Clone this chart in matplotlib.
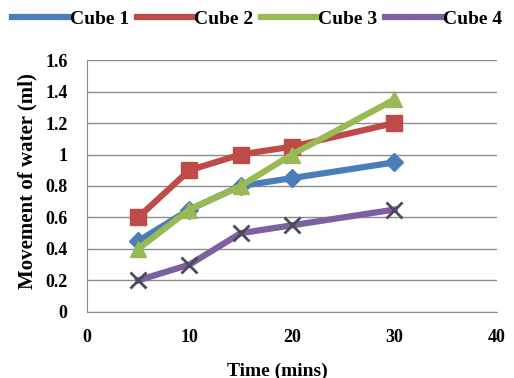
import matplotlib.pyplot as plt

# data
time = [5, 10, 15, 20, 30]
cube1 = [0.45, 0.65, 0.8, 0.85, 0.95]
cube2 = [0.6, 0.9, 1.0, 1.05, 1.2]
cube3 = [0.4, 0.65, 0.8, 1.0, 1.35]
cube4 = [0.2, 0.3, 0.5, 0.55, 0.65]

plt.rcParams['font.family'] = 'Liberation Serif'
plt.rcParams['font.weight'] = 'bold'

fig = plt.figure(figsize=(5.14, 3.78), dpi=100)
ax = fig.add_axes([0.169, 0.175, 0.798, 0.666])

ax.plot(time, cube1, color='#4A7EBB', lw=4.5, marker='D', ms=9, label='Cube 1')
ax.plot(time, cube2, color='#BE4B48', lw=4.5, marker='s', ms=11, label='Cube 2')
ax.plot(time, cube3, color='#98B954', lw=4.5, marker='^', ms=12, label='Cube 3')
ax.plot(time, cube4, color='#7D60A0', lw=4.5, marker='x', ms=11, mew=2,
        mec='#4a4a5a', label='Cube 4')

ax.set_xlim(0, 40)
ax.set_ylim(0, 1.6)
ax.set_xticks([0, 10, 20, 30, 40])
ax.set_yticks([0, 0.2, 0.4, 0.6, 0.8, 1, 1.2, 1.4, 1.6])
ax.set_yticklabels(['0', '0.2', '0.4', '0.6', '0.8', '1', '1.2', '1.4', '1.6'])
ax.tick_params(length=0, labelsize=13)
ax.tick_params(axis='y', pad=14)
ax.tick_params(axis='x', pad=12)
ax.yaxis.grid(True, color='#8c8c8c', lw=1)
ax.set_axisbelow(True)
for s in ['top', 'right']:
    ax.spines[s].set_visible(False)
for s in ['left', 'bottom']:
    ax.spines[s].set_color('#8c8c8c')

ax.set_xlabel('Time (mins)', fontsize=14, fontweight='bold')
ax.xaxis.set_label_coords(0.465, -0.2)
ax.set_ylabel('Movement of water (ml)', fontsize=15, fontweight='bold')
ax.yaxis.set_label_coords(-0.12, 0.52)

handles, labels = ax.get_legend_handles_labels()
leg = fig.legend(handles, labels, loc='upper center', bbox_to_anchor=(0.5, 1.02),
                 ncol=4, frameon=False, fontsize=14, handlelength=2.9,
                 handletextpad=0.05, columnspacing=0.4, markerscale=0.0001)

fig.savefig('out.png', dpi=100)
